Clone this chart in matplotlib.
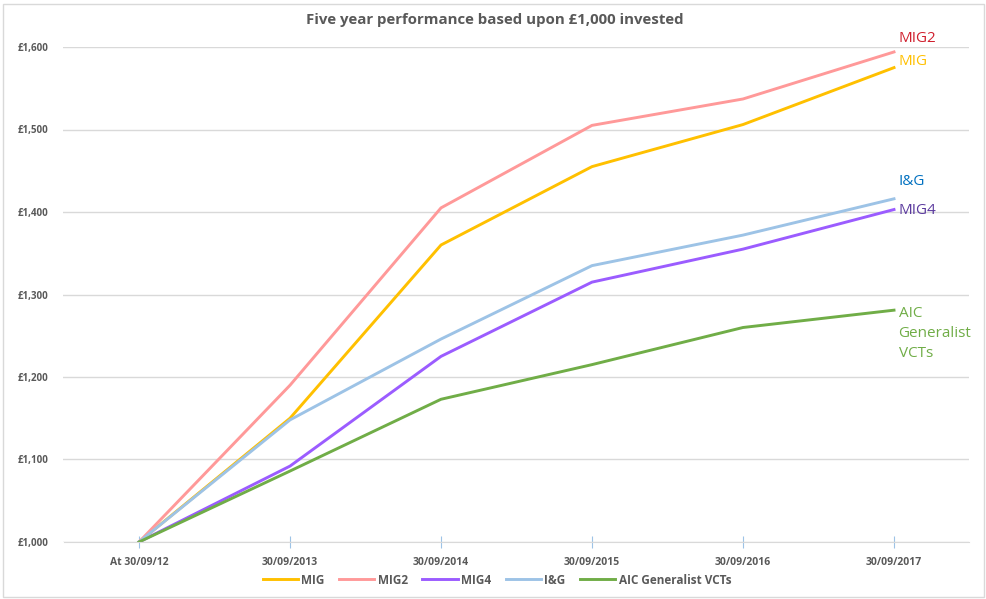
'''
Five year performance of the MIG VCTs against the AIC generalist average,
based upon 1,000 GBP invested at 30/09/12.
'''

import matplotlib.pyplot as plt
from matplotlib.patches import Rectangle

dates = ['At 30/09/12', '30/09/2013', '30/09/2014', '30/09/2015', '30/09/2016', '30/09/2017']

mig = [1000, 1150, 1360, 1455, 1506, 1575]
mig2 = [1000, 1190, 1405, 1505, 1537, 1594]
mig4 = [1000, 1092, 1225, 1315, 1355, 1403]
ig = [1000, 1148, 1246, 1335, 1372, 1416]
aic = [1000, 1086, 1173, 1215, 1260, 1281]

y_ticks = [1000, 1100, 1200, 1300, 1400, 1500, 1600]

grey = '#595959'
plt.rcParams['font.family'] = ['Open Sans', 'DejaVu Sans']

fig = plt.figure(figsize=(9.87, 5.99), dpi=100)
ax = fig.add_axes([63.5 / 987, 1 - 542 / 599, (969.5 - 63.5) / 987, (542 - 47) / 599])

x = range(len(dates))
#series in the same order as the legend
ax.plot(x, mig, color='#FFC000', lw=2.1, label='MIG')
ax.plot(x, mig2, color='#FF9999', lw=2.1, label='MIG2')
ax.plot(x, mig4, color='#9B5CFF', lw=2.1, label='MIG4')
ax.plot(x, ig, color='#9DC3E6', lw=2.1, label='I&G')
ax.plot(x, aic, color='#70AD47', lw=2.1, label='AIC Generalist VCTs')

ax.set_xlim(-0.5, 5.5)
ax.set_ylim(1000, 1600)
ax.set_yticks(y_ticks)
ax.set_yticklabels(['£{:,}'.format(v) for v in y_ticks], fontsize=7, fontweight='bold', color=grey)
ax.set_xticks(list(x))
ax.set_xticklabels(dates, fontsize=7.5, fontweight='bold', color=grey)
ax.tick_params(axis='y', length=0, pad=11)
ax.tick_params(axis='x', direction='inout', length=9, color='#9DC3E6', pad=6)

ax.grid(axis='y', color='#D9D9D9', lw=1)
ax.set_axisbelow(True)
for side in ['top', 'right', 'left']:
    ax.spines[side].set_visible(False)
ax.spines['bottom'].set_color('#D9D9D9')

#labels at the end of each line
end_x = 5.03
ax.text(end_x, 1610, 'MIG2', color='#D0202E', fontsize=11, va='center', clip_on=False)
ax.text(end_x, 1582, 'MIG', color='#FFC000', fontsize=11, va='center', clip_on=False)
ax.text(end_x, 1437, 'I&G', color='#0070C0', fontsize=11, va='center', clip_on=False)
ax.text(end_x, 1402, 'MIG4', color='#5B3A9E', fontsize=11, va='center', clip_on=False)
ax.text(end_x, 1286, 'AIC\nGeneralist\nVCTs', color='#70AD47', fontsize=11, va='top',
        linespacing=1.45, clip_on=False)

fig.text(495 / 987, 1 - 20 / 599, 'Five year performance based upon £1,000 invested',
         ha='center', va='center', fontsize=10.8, fontweight='bold', color=grey)

leg = fig.legend(loc='center', bbox_to_anchor=(497 / 987, 1 - 580 / 599), ncol=5, frameon=False,
                 prop={'size': 8.5, 'weight': 'bold'}, handlelength=3, columnspacing=1.2,
                 handletextpad=0.3)
for t in leg.get_texts():
    t.set_color(grey)

#light frame round the chart area
fig.patches.append(Rectangle((0.003, 0.003), 0.994, 0.99, transform=fig.transFigure,
                             fill=False, edgecolor='#D9D9D9', lw=1))

fig.savefig('out.png', dpi=100)
